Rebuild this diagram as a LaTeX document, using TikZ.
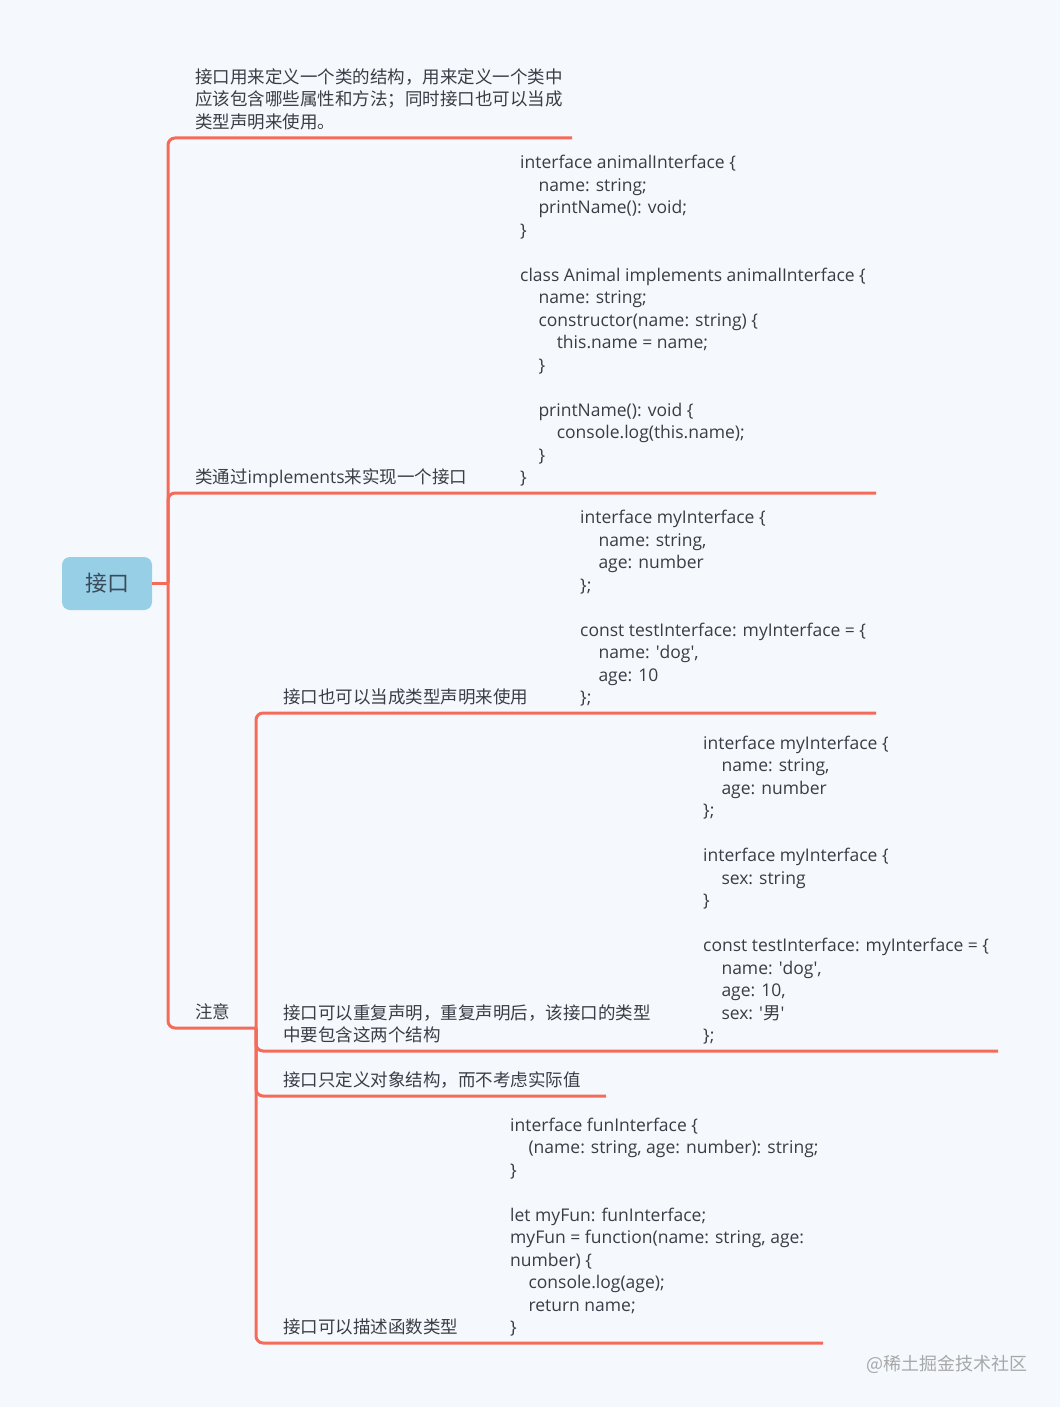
\documentclass[tikz,border=0pt]{standalone}
\usepackage{fontspec}
\setmainfont{Open Sans}
\newfontfamily\cjk{Noto Sans CJK SC}
\definecolor{bgc}{HTML}{F5F9FD}
\definecolor{linec}{HTML}{F56B5A}
\definecolor{txtc}{HTML}{3A3D45}
\definecolor{rootfill}{HTML}{96CFE6}
\definecolor{roottxt}{HTML}{3B4A5A}
\definecolor{wmc}{HTML}{A8A8A8}
\newcommand{\ind}{\hspace*{18.3pt}}
\newcommand{\sq}{\textquotesingle}
\begin{document}
\begin{tikzpicture}[x=1pt,y=-1pt,
  txt/.style={anchor=base west, inner sep=0pt, text=txtc, font=\fontsize{17.5}{22.5}\selectfont},
  cjktxt/.style={txt, font=\cjk\fontsize{17.5}{22.5}\selectfont},
  branch/.style={draw=linec, line width=3pt, rounded corners=7pt},
  rootbox/.style={fill=rootfill, rounded corners=8pt, minimum width=90pt, minimum height=53pt, inner sep=0pt, text=roottxt, font=\cjk\fontsize{22}{26}\selectfont}
]
\fill[bgc] (0,0) rectangle (1060,1407);
\useasboundingbox (0,0) rectangle (1060,1407);

% root
\node[rootbox] (root) at (107,583.5) {接口};
\coordinate (j0) at (168,583.5);
\coordinate (j3) at (256,1028);

% level 1 texts
\node[cjktxt] (n1) at (195,128.5) {\begin{tabular}[b]{@{}l@{}}接口用来定义一个类的结构，用来定义一个类中\\应该包含哪些属性和方法；同时接口也可以当成\\类型声明来使用。\end{tabular}};
\node[txt] (n2) at (195,483.5) {{\cjk 类通过}implements{\cjk 来实现一个接口}};
\node[txt] (c2) at (520,483.5) {\begin{tabular}[b]{@{}l@{}}
interface animalInterface \{\\
\ind name: string;\\
\ind printName(): void;\\
\}\\
\\
class Animal implements animalInterface \{\\
\ind name: string;\\
\ind constructor(name: string) \{\\
\ind\ind this.name = name;\\
\ind \}\\
\\
\ind printName(): void \{\\
\ind\ind console.log(this.name);\\
\ind \}\\
\}
\end{tabular}};
\node[cjktxt] (n3) at (195,1018.5) {注意};

% level 2 texts
\node[cjktxt] (n31) at (283,703.5) {接口也可以当成类型声明来使用};
\node[txt] (c31) at (580,703.5) {\begin{tabular}[b]{@{}l@{}}
interface myInterface \{\\
\ind name: string,\\
\ind age: number\\
\};\\
\\
const testInterface: myInterface = \{\\
\ind name: \sq dog\sq,\\
\ind age: 10\\
\};
\end{tabular}};
\node[cjktxt] (n32) at (283,1041.5) {\begin{tabular}[b]{@{}l@{}}接口可以重复声明，重复声明后，该接口的类型\\中要包含这两个结构\end{tabular}};
\node[txt] (c32) at (703,1041.5) {\begin{tabular}[b]{@{}l@{}}
interface myInterface \{\\
\ind name: string,\\
\ind age: number\\
\};\\
\\
interface myInterface \{\\
\ind sex: string\\
\}\\
\\
const testInterface: myInterface = \{\\
\ind name: \sq dog\sq,\\
\ind age: 10,\\
\ind sex: \sq{\cjk 男}\sq\\
\};
\end{tabular}};
\node[cjktxt] (n33) at (283,1086.5) {接口只定义对象结构，而不考虑实际值};
\node[cjktxt] (n34) at (283,1333.5) {接口可以描述函数类型};
\node[txt] (c34) at (510,1333.5) {\begin{tabular}[b]{@{}l@{}}
interface funInterface \{\\
\ind (name: string, age: number): string;\\
\}\\
\\
let myFun: funInterface;\\
myFun = function(name: string, age:\\
number) \{\\
\ind console.log(age);\\
\ind return name;\\
\}
\end{tabular}};

% underline end coordinates
\coordinate (u1) at (572,138);
\coordinate (u2) at (876,493);
\coordinate (u31) at (876,713);
\coordinate (u32) at (998,1051);
\coordinate (u33) at (606,1096);
\coordinate (u34) at (823,1343);

% connectors
\draw[draw=linec, line width=3pt] (root.east) -- (j0);
\draw[branch] (j0) |- (u1);
\draw[branch] (j0) |- (u2);
\draw[branch] (j0) |- (j3);
\draw[branch] (j3) |- (u31);
\draw[branch] (j3) |- (u32);
\draw[branch] (j3) |- (u33);
\draw[branch] (j3) |- (u34);

% watermark
\node[anchor=base west, inner sep=0pt, text=wmc, font=\cjk\fontsize{18}{22}\selectfont] (wm) at (866,1370) {@稀土掘金技术社区};
\end{tikzpicture}
\end{document}
